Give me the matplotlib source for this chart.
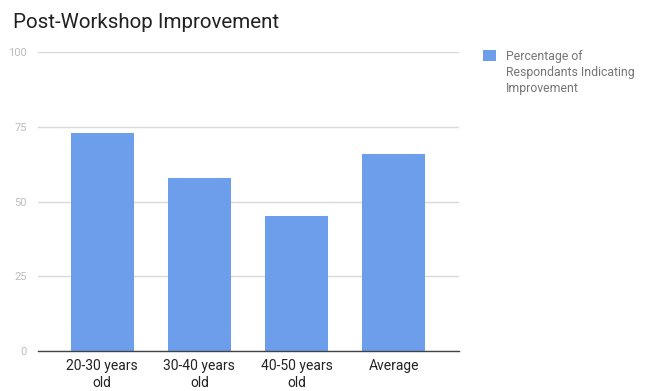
import numpy as np
import matplotlib.pyplot as plt

plt.rcParams['font.family'] = ['Roboto', 'DejaVu Sans']

# data
groups = ["20-30 years\nold", "30-40 years\nold", "40-50 years\nold", "Average"]
pct_improved = [73, 58, 45, 66]
series_name = "Percentage of\nRespondants Indicating\nImprovement"
yticks = [0, 25, 50, 75, 100]

fig = plt.figure(figsize=(6.46, 3.91), dpi=100)
ax = fig.add_axes([0.0588, 0.1023, 0.6517, 0.7647])

x = np.arange(len(groups))
ax.bar(x, pct_improved, width=0.65, color='#6d9eeb', label=series_name, zorder=3)

ax.set_xlim(-0.66, 3.67)
ax.set_ylim(0, 100)
ax.set_yticks(yticks)
ax.set_xticks(x)
ax.set_xticklabels(groups, fontsize=10, color='#222222', linespacing=1.2)
ax.tick_params(axis='y', length=0, labelsize=8, labelcolor='#bdbdbd', pad=8)
ax.tick_params(axis='x', length=0, pad=6)
ax.grid(axis='y', color='#d9d9d9', linewidth=1, zorder=0)
for s in ['top', 'right', 'left']:
    ax.spines[s].set_visible(False)
ax.spines['bottom'].set_color('#444444')
ax.spines['bottom'].set_linewidth(1)
ax.spines['bottom'].set_zorder(4)

fig.text(13 / 646, 1 - 22 / 391, "Post-Workshop Improvement", fontsize=14.8,
         color='#212121', va='center', ha='left')

leg = fig.legend(loc='upper left', bbox_to_anchor=(478 / 646, 1 - 45 / 391),
                 frameon=False, fontsize=8.8, handlelength=1.05, handleheight=1.05,
                 handletextpad=0.85, borderaxespad=0)
for t in leg.get_texts():
    t.set_color('#757575')
    t.set_linespacing(1.3)
# square sits beside the first line, not the middle of the label
for col in leg._legend_handle_box.get_children():
    for row in col.get_children():
        row.align = 'top'

fig.savefig("out.png", dpi=100)
